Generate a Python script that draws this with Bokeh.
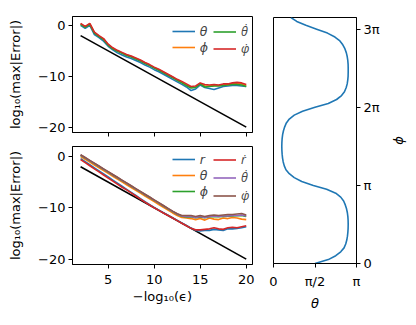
import numpy as np
from bokeh.plotting import figure
from bokeh.layouts import row, column
from bokeh.models import Range1d, FixedTicker, Legend, LegendItem
from bokeh.embed import file_html
from bokeh.resources import INLINE

FONT = "DejaVu Sans"
DOT_FONT = "Open Sans"
FS = "13px"

# -log10(eps) grid
neg_log_eps = [2, 2.5, 3, 3.5, 4, 4.5, 5, 5.5, 6, 6.5, 7, 7.5, 8, 8.5, 9, 9.5, 10,
               10.5, 11, 11.5, 12, 12.5, 13, 13.5, 14, 14.5, 15, 15.5, 16, 16.5,
               17, 17.5, 18, 18.5, 19, 19.5, 20]
ref_x = [2, 20]
ref_y = [-2, -20]

# top panel (angles only)
top_theta = [0.0, -0.6, 0.0, -1.8, -2.4, -3.1, -4.1, -4.8, -5.4, -5.8, -6.2, -6.5, -6.9, -7.3,
             -7.8, -8.2, -8.7, -9.1, -9.6, -10.1, -10.6, -11.1, -11.6, -12.1, -12.8, -12.5,
             -11.7, -12.2, -12.4, -12.6, -12.3, -12.0, -11.9, -11.8, -11.8, -11.9, -12.0]
top_phi = [0.3, -0.3, 0.3, -1.4, -2.1, -2.7, -3.8, -4.5, -5.0, -5.4, -5.8, -6.1, -6.5, -6.9,
           -7.4, -7.8, -8.3, -8.7, -9.2, -9.7, -10.2, -10.7, -11.2, -11.7, -12.2, -12.1,
           -11.4, -11.9, -11.9, -11.8, -11.8, -11.7, -11.6, -11.5, -11.4, -11.5, -11.8]
top_thetadot = [0.2, -0.4, 0.2, -1.5, -2.2, -2.8, -3.9, -4.6, -5.1, -5.5, -5.9, -6.2, -6.6, -7.0,
                -7.5, -7.9, -8.4, -8.8, -9.3, -9.8, -10.3, -10.8, -11.3, -11.8, -12.3, -12.2,
                -11.5, -12.1, -12.0, -11.9, -11.9, -11.8, -11.7, -11.6, -11.6, -11.7, -12.0]
top_phidot = [0.4, -0.2, 0.4, -1.3, -2.0, -2.6, -3.7, -4.4, -4.9, -5.3, -5.7, -6.0, -6.4, -6.8,
              -7.3, -7.7, -8.2, -8.6, -9.1, -9.6, -10.1, -10.6, -11.0, -11.5, -12.0, -11.9,
              -11.3, -11.6, -11.7, -11.6, -11.7, -11.5, -11.5, -11.3, -11.2, -11.3, -11.6]

# bottom panel (full state)
bot_r = [-0.4, -1.0, -1.6, -2.2, -2.8, -3.4, -4.0, -4.6, -5.2, -5.8, -6.4, -7.0, -7.6, -8.2,
         -8.8, -9.4, -9.95, -10.45, -10.95, -11.45, -11.95, -12.45, -12.95, -13.45, -13.95,
         -14.4, -14.5, -14.4, -14.4, -14.2, -14.3, -14.4, -14.1, -14.1, -14.0, -13.9, -13.7]
bot_theta = [0.0, -0.55, -1.1, -1.65, -2.2, -2.75, -3.3, -3.85, -4.4, -4.95, -5.5, -6.05, -6.6,
             -7.15, -7.7, -8.25, -8.8, -9.35, -9.9, -10.45, -11.0, -11.5, -11.9, -12.0, -12.1,
             -12.3, -12.1, -12.4, -12.0, -12.2, -12.3, -12.0, -12.1, -11.9, -12.0, -12.2, -12.3]
bot_phi = [0.25, -0.3, -0.85, -1.4, -1.95, -2.5, -3.05, -3.6, -4.15, -4.7, -5.25, -5.8, -6.35,
           -6.9, -7.45, -8.0, -8.55, -9.1, -9.65, -10.2, -10.75, -11.25, -11.65, -11.8, -11.75,
           -11.95, -11.8, -11.95, -11.75, -11.7, -11.75, -11.7, -11.65, -11.6, -11.55, -11.5, -11.7]
bot_rdot = [-0.6, -1.2, -1.8, -2.4, -3.0, -3.6, -4.2, -4.8, -5.4, -6.0, -6.5, -7.1, -7.7, -8.3,
            -8.9, -9.45, -10.0, -10.5, -11.0, -11.5, -12.0, -12.5, -13.0, -13.5, -14.0, -14.3,
            -14.3, -14.2, -14.1, -13.9, -14.1, -14.2, -13.9, -13.8, -13.9, -13.7, -13.5]
bot_thetadot = [0.3, -0.25, -0.8, -1.35, -1.9, -2.45, -3.0, -3.55, -4.1, -4.65, -5.2, -5.75,
                -6.3, -6.85, -7.4, -7.95, -8.5, -9.05, -9.6, -10.15, -10.7, -11.2, -11.6, -11.7,
                -11.7, -11.9, -11.7, -11.9, -11.7, -11.6, -11.7, -11.6, -11.6, -11.5, -11.5,
                -11.4, -11.6]
bot_phidot = [0.35, -0.2, -0.75, -1.3, -1.85, -2.4, -2.95, -3.5, -4.05, -4.6, -5.15, -5.7,
              -6.25, -6.8, -7.35, -7.9, -8.45, -9.0, -9.55, -10.1, -10.65, -11.15, -11.5, -11.5,
              -11.5, -11.7, -11.5, -11.7, -11.5, -11.4, -11.5, -11.4, -11.3, -11.3, -11.2,
              -11.1, -11.4]

# trajectory (in units of pi)
phi_over_pi = [0.00, 0.05, 0.10, 0.15, 0.20, 0.25, 0.30, 0.35, 0.40, 0.45, 0.50, 0.55, 0.60,
               0.65, 0.70, 0.75, 0.80, 0.85, 0.90, 0.95, 1.00, 1.05, 1.10, 1.15, 1.20, 1.25,
               1.30, 1.35, 1.40, 1.45, 1.50, 1.55, 1.60, 1.65, 1.70, 1.75, 1.80, 1.85, 1.90,
               1.95, 2.00, 2.05, 2.10, 2.15, 2.20, 2.25, 2.30, 2.35, 2.40, 2.45, 2.50, 2.55,
               2.60, 2.65, 2.70, 2.75, 2.80, 2.85, 2.90, 2.95, 3.00, 3.05, 3.10, 3.15]
theta_over_pi = [0.50, 0.66, 0.75, 0.81, 0.85, 0.87, 0.883, 0.891, 0.896, 0.899, 0.900, 0.899,
                 0.896, 0.890, 0.880, 0.865, 0.845, 0.81, 0.75, 0.64, 0.48, 0.34, 0.25, 0.19,
                 0.15, 0.13, 0.117, 0.109, 0.104, 0.101, 0.100, 0.101, 0.104, 0.110, 0.120,
                 0.135, 0.155, 0.19, 0.25, 0.35, 0.50, 0.66, 0.76, 0.82, 0.855, 0.875, 0.888,
                 0.895, 0.899, 0.900, 0.900, 0.899, 0.895, 0.888, 0.877, 0.86, 0.835, 0.80,
                 0.74, 0.65, 0.52, 0.39, 0.28, 0.21]

err_ticks = [5, 10, 15, 20]
err_yticks = [-20, -10, 0]
err_ylabels = {-20: "\u221220", -10: "\u221210", 0: "0"}

C = ["#1f77b4", "#ff7f0e", "#2ca02c", "#d62728", "#9467bd", "#8c564b"]
LW = 1.6


def style(p):
    p.grid.visible = False
    p.outline_line_color = "black"
    p.outline_line_width = 1
    p.background_fill_color = "white"
    p.border_fill_color = "white"
    for ax in p.axis:
        ax.axis_line_color = "black"
        ax.axis_line_width = 1
        ax.major_tick_line_color = "black"
        ax.major_tick_out = 4
        ax.major_tick_in = 0
        ax.minor_tick_line_color = None
        ax.major_label_text_font = FONT
        ax.major_label_text_font_size = FS
        ax.major_label_text_color = "black"
        ax.major_label_standoff = 3
        ax.axis_label_text_font = FONT
        ax.axis_label_text_font_size = FS
        ax.axis_label_text_font_style = "normal"
        ax.axis_label_text_color = "black"


def make_legend(items, loc, spacing, font=FONT, h=16):
    return Legend(items=items, location=loc, background_fill_alpha=0,
                  border_line_color=None, padding=0, margin=0, spacing=spacing,
                  glyph_width=23, glyph_height=h, label_height=h, label_standoff=5,
                  label_text_font=font, label_text_font_size="12.5px",
                  label_text_font_style="italic")


# ---------- top-left ----------
p1 = figure(width=260, height=146, x_range=Range1d(1.12, 20.68), y_range=Range1d(-21.05, 1.75),
            output_backend="svg", toolbar_location=None,
            min_border_left=72, min_border_right=8, min_border_top=16, min_border_bottom=14)
style(p1)
p1.line(ref_x, ref_y, color="black", line_width=LW)
r1 = p1.line(neg_log_eps, top_theta, color=C[0], line_width=LW)
r2 = p1.line(neg_log_eps, top_phi, color=C[1], line_width=LW)
r3 = p1.line(neg_log_eps, top_thetadot, color=C[2], line_width=LW)
r4 = p1.line(neg_log_eps, top_phidot, color=C[3], line_width=LW)
p1.xaxis.ticker = FixedTicker(ticks=err_ticks)
p1.xaxis.major_label_overrides = {t: "" for t in err_ticks}
p1.xaxis.major_label_text_font_size = "0px"
p1.xaxis.major_label_standoff = 0
p1.yaxis.ticker = FixedTicker(ticks=err_yticks)
p1.yaxis.major_label_overrides = err_ylabels
p1.yaxis.axis_label = "log\u2081\u2080(max|Error|)"
p1.yaxis.axis_label_standoff = 12
p1.add_layout(make_legend([LegendItem(label="\u03b8", renderers=[r1]),
                           LegendItem(label="\u03d5", renderers=[r2])], (99.7, 77), 0))
p1.add_layout(make_legend([LegendItem(label="\u03b8\u0307", renderers=[r3]),
                           LegendItem(label="\u03c6\u0307", renderers=[r4])], (141, 75), 0,
                          DOT_FONT, 17))

# ---------- bottom-left ----------
p2 = figure(width=260, height=171, x_range=Range1d(1.12, 20.68), y_range=Range1d(-21.05, 1.95),
            output_backend="svg", toolbar_location=None,
            min_border_left=72, min_border_right=8, min_border_top=0, min_border_bottom=53)
style(p2)
p2.line(ref_x, ref_y, color="black", line_width=LW)
s1 = p2.line(neg_log_eps, bot_r, color=C[0], line_width=LW)
s2 = p2.line(neg_log_eps, bot_theta, color=C[1], line_width=LW)
s3 = p2.line(neg_log_eps, bot_phi, color=C[2], line_width=LW)
s4 = p2.line(neg_log_eps, bot_rdot, color=C[3], line_width=LW)
s5 = p2.line(neg_log_eps, bot_thetadot, color=C[4], line_width=LW)
s6 = p2.line(neg_log_eps, bot_phidot, color=C[5], line_width=LW)
p2.xaxis.ticker = FixedTicker(ticks=err_ticks)
p2.xaxis.major_label_standoff = 6
p2.xaxis.axis_label = "\u2212log\u2081\u2080(\u03f5)"
p2.xaxis.axis_label_standoff = 2
p2.yaxis.ticker = FixedTicker(ticks=err_yticks)
p2.yaxis.major_label_overrides = err_ylabels
p2.yaxis.axis_label = "log\u2081\u2080(max|Error|)"
p2.yaxis.axis_label_standoff = 12
p2.add_layout(make_legend([LegendItem(label="r", renderers=[s1]),
                           LegendItem(label="\u03b8", renderers=[s2]),
                           LegendItem(label="\u03d5", renderers=[s3])], (99.7, 65), 0))
p2.add_layout(make_legend([LegendItem(label="r\u0307", renderers=[s4]),
                           LegendItem(label="\u03b8\u0307", renderers=[s5]),
                           LegendItem(label="\u03c6\u0307", renderers=[s6])], (141, 60), 1,
                          DOT_FONT, 17))

# ---------- right: trajectory ----------
p3 = figure(width=156, height=317, x_range=Range1d(0, 1), y_range=Range1d(0, 3.15),
            output_backend="svg", toolbar_location=None, y_axis_location="right",
            min_border_left=13, min_border_right=60, min_border_top=17, min_border_bottom=54)
style(p3)
p3.line(theta_over_pi, phi_over_pi, color=C[0], line_width=LW)
p3.xaxis.ticker = FixedTicker(ticks=[0, 0.5, 1])
p3.xaxis.major_label_overrides = {0: "0", 0.5: "\u03c0/2", 1: "\u03c0"}
p3.xaxis.major_label_standoff = 6
p3.xaxis.axis_label = "\u03b8"
p3.xaxis.axis_label_text_font_style = "italic"
p3.xaxis.axis_label_standoff = 4
p3.yaxis.ticker = FixedTicker(ticks=[0, 1, 2, 3])
p3.yaxis.major_label_overrides = {0: "0", 1: "\u03c0", 2: "2\u03c0", 3: "3\u03c0"}
p3.yaxis.axis_label = "\u03d5"
p3.yaxis.axis_label_text_font_style = "italic"
p3.yaxis.axis_label_standoff = 10

layout = row(column(p1, p2), p3)
open("out.html", "w").write(file_html(layout, INLINE))
